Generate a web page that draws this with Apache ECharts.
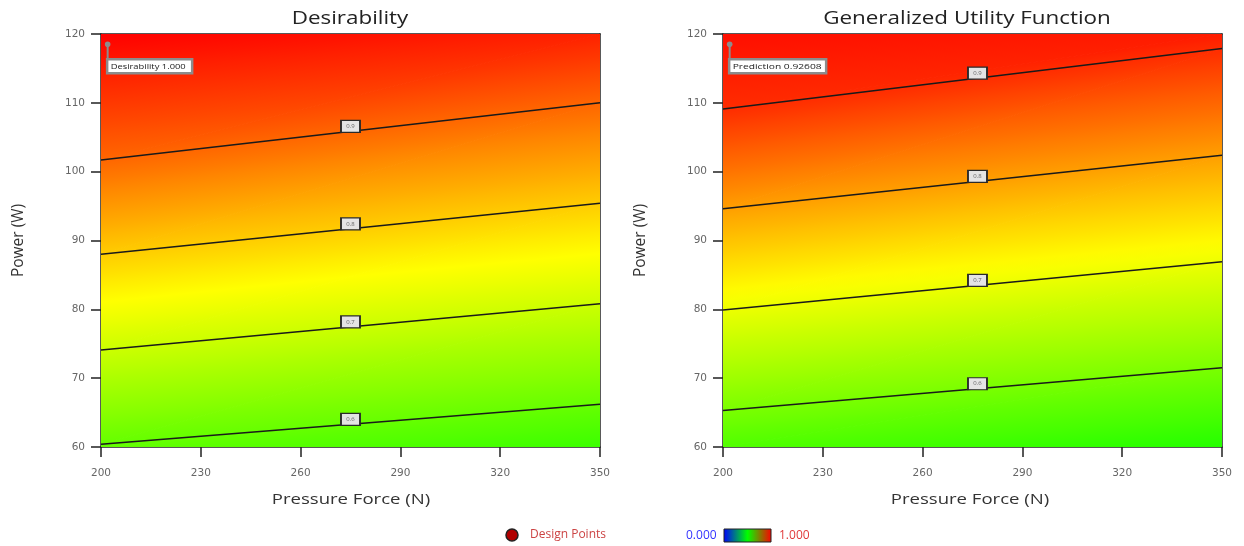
<!DOCTYPE html>
<html><head><meta charset="utf-8">
<script src="https://cdn.jsdelivr.net/npm/echarts@6/dist/echarts.min.js"></script>
<style>html,body{margin:0;padding:0;background:#fff}#c{width:1244px;height:546px}</style>
</head><body><div id="c"></div>
<script>
// ---------- data ----------
const panelTitles = ['Desirability', 'Generalized Utility Function'];
const xAxisTitle = 'Pressure Force (N)';
const yAxisTitle = 'Power (W)';
const xTicks = [200, 230, 260, 290, 320, 350];
const yTicks = [60, 70, 80, 90, 100, 110, 120];
const contourLevels = [0.6, 0.7, 0.8, 0.9];
// Power (W) where each contour meets Pressure Force 200 N and 350 N
const desLineAt200 = [60.4, 74.1, 88.0, 101.7];
const desLineAt350 = [66.2, 80.8, 95.4, 110.0];
const gufLineAt200 = [65.3, 79.9, 94.6, 109.1];
const gufLineAt350 = [71.5, 86.9, 102.4, 117.9];
// estimated response at the plot corners [at 200 N, at 350 N]
const desBottomEdge = [0.597, 0.558];
const desTopEdge = [1.0, 0.968];
const gufBottomEdge = [0.564, 0.525];
const gufTopEdge = [0.926, 0.914];
// flag (optimum) annotation
const flagPoint = [202, 118.5];
const flagTexts = ['Desirability 1.000', 'Prediction 0.92608'];
const labelForce = [275, 276.5];
const legendTexts = ['Design Points', '0.000', '1.000'];

// ---------- helpers ----------
function hsv(h) {
  h = Math.max(0, Math.min(240, h));
  const x = 1 - Math.abs((h / 60) % 2 - 1);
  let r, g, b;
  if (h < 60) [r, g, b] = [1, x, 0];
  else if (h < 120) [r, g, b] = [x, 1, 0];
  else if (h < 180) [r, g, b] = [0, 1, x];
  else [r, g, b] = [0, x, 1];
  return 'rgb(' + Math.round(r * 255) + ',' + Math.round(g * 255) + ',' + Math.round(b * 255) + ')';
}
const hueFns = [v => 240 * (1 - v), v => 270 * (0.938 - v)];

function triFill(P, V, hueFn) {
  const ax = P[1][0] - P[0][0], ay = P[1][1] - P[0][1];
  const bx = P[2][0] - P[0][0], by = P[2][1] - P[0][1];
  const d1 = V[1] - V[0], d2 = V[2] - V[0];
  const det = ax * by - ay * bx;
  const gx = (d1 * by - ay * d2) / det, gy = (ax * d2 - d1 * bx) / det;
  const gg = gx * gx + gy * gy;
  if (!isFinite(gg) || gg < 1e-14) return hsv(hueFn(V[0]));
  const vmin = Math.min(...V), vmax = Math.max(...V);
  const sx = P[0][0] + gx * (vmin - V[0]) / gg, sy = P[0][1] + gy * (vmin - V[0]) / gg;
  const ex = P[0][0] + gx * (vmax - V[0]) / gg, ey = P[0][1] + gy * (vmax - V[0]) / gg;
  const stops = [];
  const n = 10;
  for (let k = 0; k <= n; k++) {
    const v = vmin + (vmax - vmin) * k / n;
    stops.push({offset: k / n, color: hsv(hueFn(v))});
  }
  return {type: 'linear', x: sx, y: sy, x2: ex, y2: ey, colorStops: stops, global: true};
}

function boundaries(at200, at350, bottom, top) {
  const b = [{s: 60, e: 60, vs: bottom[0], ve: bottom[1]}];
  contourLevels.forEach((lv, i) => b.push({s: at200[i], e: at350[i], vs: lv, ve: lv}));
  b.push({s: 120, e: 120, vs: top[0], ve: top[1]});
  return b;
}
const panels = [
  {lines: [desLineAt200, desLineAt350], bounds: boundaries(desLineAt200, desLineAt350, desBottomEdge, desTopEdge)},
  {lines: [gufLineAt200, gufLineAt350], bounds: boundaries(gufLineAt200, gufLineAt350, gufBottomEdge, gufTopEdge)}
];

const FONT = 'Open Sans';
const TICKFONT = 'DejaVu Sans';
const grids = [
  {left: 101, right: 644, top: 34, bottom: 99},
  {left: 723, right: 22, top: 34, bottom: 99}
];
const flagBoxW = [85, 97];
const flagTextScale = [1.17, 1.28];

const xAxis = [], yAxis = [], series = [];
grids.forEach((g, k) => {
  xAxis.push({
    gridIndex: k, type: 'value', min: 200, max: 350, interval: 30, position: 'bottom',
    axisLine: {show: true, onZero: false, lineStyle: {color: '#222', width: 1.5}},
    axisTick: {show: true, length: 10, lineStyle: {color: '#222', width: 1.5}},
    axisLabel: {margin: 21, fontFamily: TICKFONT, fontSize: 10.5, color: '#666',
      formatter: v => xTicks.includes(v) ? String(v) : ''},
    splitLine: {show: false}
  });
  yAxis.push({
    gridIndex: k, type: 'value', min: 60, max: 120, interval: 10, position: 'left',
    name: yAxisTitle, nameLocation: 'middle', nameGap: 74,
    nameTextStyle: {fontFamily: FONT, fontSize: 15.5, color: '#333'},
    axisLine: {show: true, onZero: false, lineStyle: {color: '#222', width: 1.5}},
    axisTick: {show: true, length: 10, lineStyle: {color: '#222', width: 1.5}},
    axisLabel: {margin: 16, fontFamily: TICKFONT, fontSize: 10.5, color: '#666',
      formatter: v => yTicks.includes(v) ? String(v) : ''},
    splitLine: {show: false}
  });
});
grids.forEach((g, k) => {
  xAxis.push({gridIndex: k, type: 'value', min: 200, max: 350, position: 'top',
    axisLine: {show: true, onZero: false, lineStyle: {color: '#222', width: 1.5}},
    axisTick: {show: false}, axisLabel: {show: false}, splitLine: {show: false}});
  yAxis.push({gridIndex: k, type: 'value', min: 60, max: 120, position: 'right',
    axisLine: {show: true, onZero: false, lineStyle: {color: '#222', width: 1.5}},
    axisTick: {show: false}, axisLabel: {show: false}, splitLine: {show: false}});
});

panels.forEach((p, k) => {
  const hueFn = hueFns[k];
  const bands = [];
  for (let i = 0; i < p.bounds.length - 1; i++) bands.push([i]);
  series.push({
    type: 'custom', xAxisIndex: k, yAxisIndex: k, clip: true, z: 1, silent: true,
    data: bands,
    renderItem: (params, api) => {
      const i = api.value(0);
      const lo = p.bounds[i], up = p.bounds[i + 1];
      const LL = api.coord([200, lo.s]), LR = api.coord([350, lo.e]);
      const UL = api.coord([200, up.s]), UR = api.coord([350, up.e]);
      const t1 = [LL, LR, UR], v1 = [lo.vs, lo.ve, up.ve];
      const t2 = [LL, UR, UL], v2 = [lo.vs, up.ve, up.vs];
      const f1 = triFill(t1, v1, hueFn), f2 = triFill(t2, v2, hueFn);
      return {type: 'group', children: [
        {type: 'polygon', shape: {points: t1}, style: {fill: f1, stroke: f1, lineWidth: 1}},
        {type: 'polygon', shape: {points: t2}, style: {fill: f2, stroke: f2, lineWidth: 1}}
      ]};
    }
  });
  contourLevels.forEach((lv, i) => {
    series.push({
      type: 'line', xAxisIndex: k, yAxisIndex: k, z: 3, silent: true,
      symbol: 'none', lineStyle: {color: '#1a1a1a', width: 1.5},
      data: [[200, p.lines[0][i]], [350, p.lines[1][i]]]
    });
  });
  const lx = labelForce[k];
  series.push({
    type: 'scatter', xAxisIndex: k, yAxisIndex: k, z: 5, silent: true,
    symbol: 'rect', symbolSize: [19, 12], symbolOffset: [0, -5],
    itemStyle: {color: '#e4e4e4', opacity: 1, borderColor: '#2a2a2a', borderWidth: 1.5},
    label: {show: true, position: 'inside', fontFamily: FONT, fontSize: 6, color: '#666',
      formatter: d => d.value[2].toFixed(1)},
    data: contourLevels.map((lv, i) => [lx,
      p.lines[0][i] + (p.lines[1][i] - p.lines[0][i]) * (lx - 200) / 150, lv])
  });
  series.push({
    type: 'custom', xAxisIndex: k, yAxisIndex: k, z: 6, silent: true, clip: false,
    data: [[flagPoint[0], flagPoint[1]]],
    renderItem: (params, api) => {
      const c = api.coord([api.value(0), api.value(1)]);
      return {type: 'group', children: [
        {type: 'line', shape: {x1: c[0], y1: c[1], x2: c[0], y2: c[1] + 15}, style: {stroke: '#8c8c8c', lineWidth: 2}},
        {type: 'circle', shape: {cx: c[0], cy: c[1], r: 2.8}, style: {fill: '#8c8c8c'}},
        {type: 'rect', shape: {x: c[0] - 0.5, y: c[1] + 15, width: flagBoxW[k], height: 14}, style: {fill: '#fff', stroke: '#8c8c8c', lineWidth: 2.5}},
        {type: 'text', x: c[0] + 3, y: c[1] + 22.5, scaleX: flagTextScale[k],
          style: {text: flagTexts[k], fontFamily: FONT, fontSize: 8, fill: '#222', verticalAlign: 'middle'}}
      ]};
    }
  });
});

const titleGraphics = [];
const titleCenters = [350, 967];
const xNameCenters = [351, 970];
titleCenters.forEach((cx, k) => {
  titleGraphics.push({type: 'text', x: cx, y: 19, scaleX: 1.28,
    style: {text: panelTitles[k], fontFamily: FONT, fontSize: 17.5, fill: '#222', textAlign: 'center', verticalAlign: 'middle'}});
  titleGraphics.push({type: 'text', x: xNameCenters[k], y: 500, scaleX: 1.28,
    style: {text: xAxisTitle, fontFamily: FONT, fontSize: 14.5, fill: '#333', textAlign: 'center', verticalAlign: 'middle'}});
});

const chart = echarts.init(document.getElementById('c'), null, {renderer: 'canvas'});
chart.setOption({
  animation: false,
  backgroundColor: '#fff',
  grid: grids,
  xAxis: xAxis,
  yAxis: yAxis,
  series: series,
  graphic: titleGraphics.concat([
    {type: 'circle', shape: {cx: 512, cy: 535, r: 6}, style: {fill: '#b00000', stroke: '#222', lineWidth: 1.5}},
    {type: 'text', x: 530, y: 535, style: {text: legendTexts[0], fontFamily: FONT, fontSize: 12, fill: '#cc4444', verticalAlign: 'middle'}},
    {type: 'text', x: 686, y: 536, style: {text: legendTexts[1], fontFamily: FONT, fontSize: 12, fill: '#3333ff', verticalAlign: 'middle'}},
    {type: 'rect', shape: {x: 724, y: 529, width: 47, height: 13},
      style: {fill: {type: 'linear', x: 0, y: 0, x2: 1, y2: 0, colorStops: [
        {offset: 0, color: '#0000ff'}, {offset: 0.5, color: '#00ff00'}, {offset: 1, color: '#ff0000'}]},
        stroke: '#222', lineWidth: 1}},
    {type: 'text', x: 779, y: 536, style: {text: legendTexts[2], fontFamily: FONT, fontSize: 12, fill: '#e03a3a', verticalAlign: 'middle'}}
  ])
});
</script></body></html>
